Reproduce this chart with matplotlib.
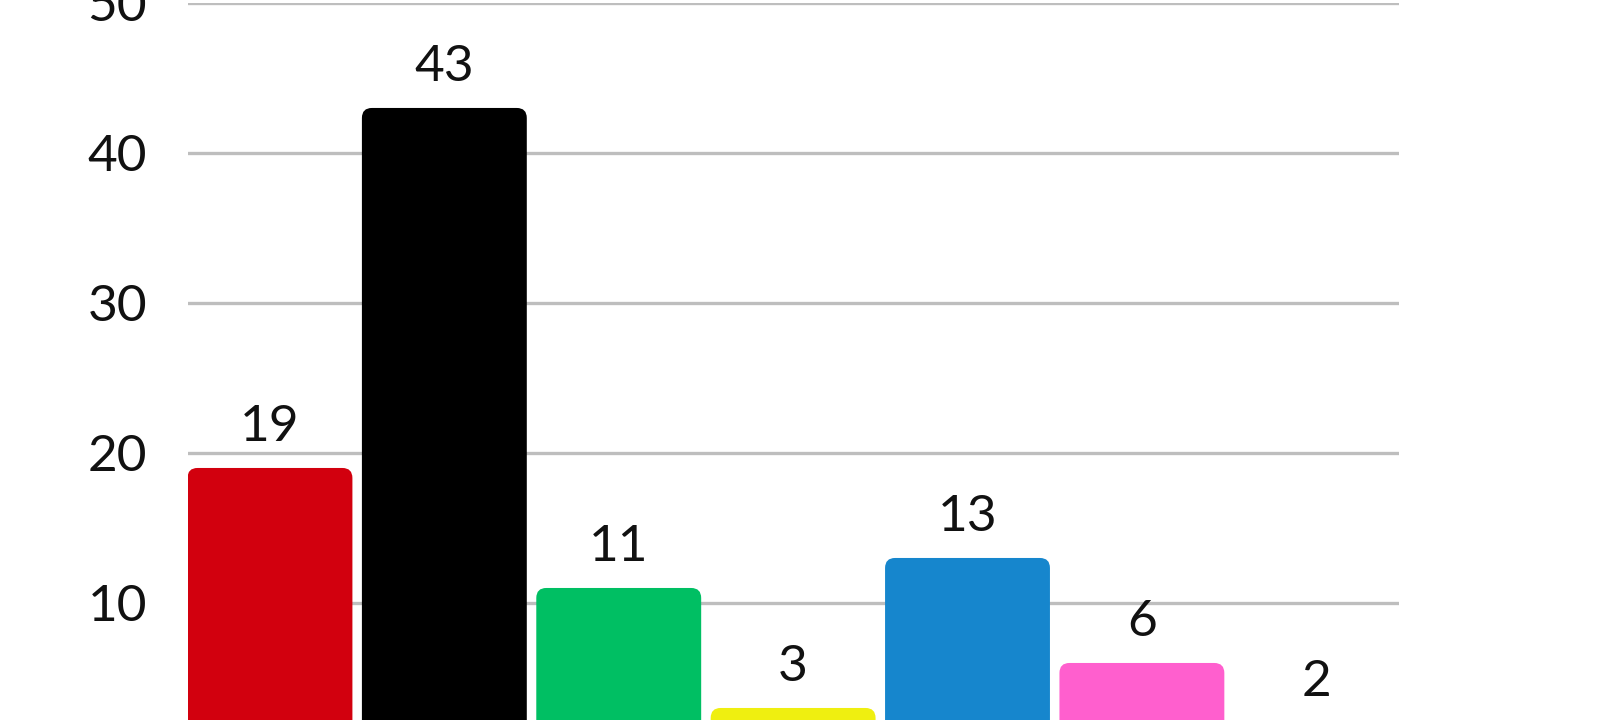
import matplotlib

matplotlib.use("Agg")
import matplotlib.pyplot as plt  # noqa: E402
from matplotlib.patches import FancyBboxPatch  # noqa: E402

values = [19, 43, 11, 3, 13, 6, 2]
colors = ["#D2000E", "#000000", "#00BF63", "#EFEF10", "#1686CD", "#FF5FCE", "#9A9A9A"]
yticks = [10, 20, 30, 40, 50]

plt.rcParams["font.family"] = ["Lato", "DejaVu Sans"]

fig = plt.figure(figsize=(16, 7.2), dpi=100)
# axes bottom sits below the figure edge, so the chart is cut off at the bottom
ax = fig.add_axes([0.1172, -0.0458, 0.757, 1.0417])

w = 165 / 174.5
xs = list(range(len(values)))
bars = ax.bar(xs, values, width=w, color=colors)

# swap plain bars for rounded ones
px_x = 174.5
px_y = 15.0
r = 10 / px_x
for rect, c in zip(bars, colors):
    rect.remove()
    ax.add_patch(FancyBboxPatch(
        (rect.get_x(), rect.get_y()), rect.get_width(), rect.get_height(),
        boxstyle=f"round,pad=0,rounding_size={r}",
        mutation_aspect=px_x / px_y, facecolor=c, edgecolor="none", zorder=3))

for x, v in zip(xs, values):
    ax.annotate(str(v), (x, v), xytext=(0, 13), textcoords="offset points",
                ha="center", va="bottom", fontsize=37, color="#111111")

ax.set_xlim(-w / 2, len(values) - 1 + w / 2)
ax.set_ylim(0, 50)
ax.set_yticks(yticks)
ax.set_yticklabels([str(t) for t in yticks])
ax.set_xticks([])
ax.tick_params(axis="y", length=0, pad=29, labelsize=37, labelcolor="#111111")
ax.grid(axis="y", color="#BEBEBE", linewidth=2.4, zorder=0)
ax.set_axisbelow(True)
for s in ax.spines.values():
    s.set_visible(False)

fig.savefig("out.png", dpi=100)
